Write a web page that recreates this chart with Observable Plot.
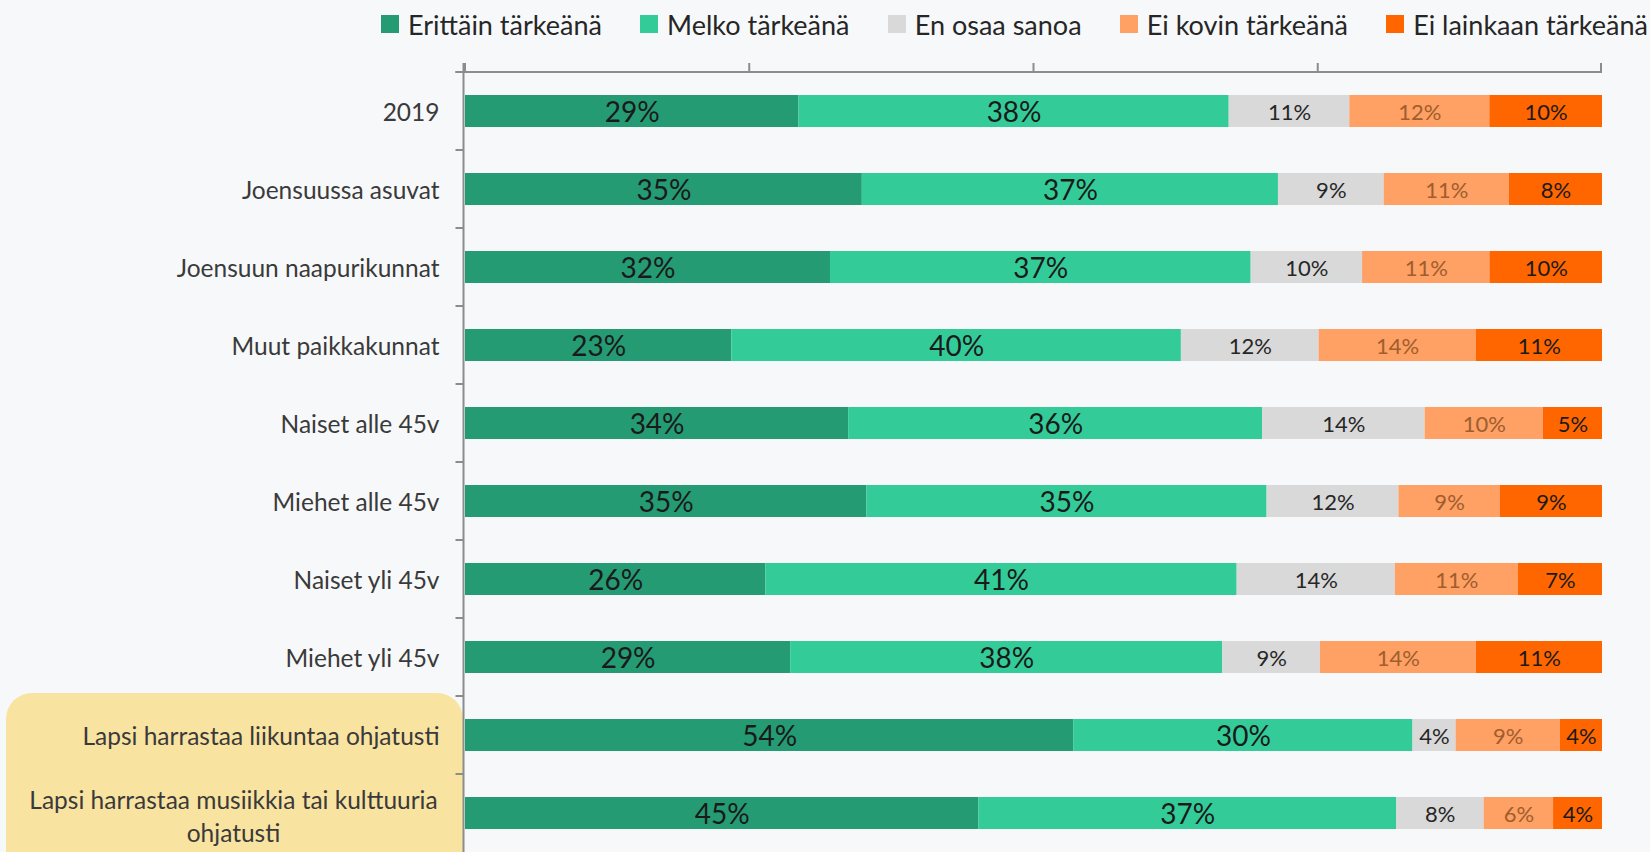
<!DOCTYPE html>
<html>
<head>
<meta charset="utf-8">
<script src="https://cdn.jsdelivr.net/npm/d3@7"></script>
<script src="https://cdn.jsdelivr.net/npm/@observablehq/plot@0.6"></script>
<style>
  html, body { margin: 0; padding: 0; background: #f7f8fa; overflow: hidden; }
  #wrap { position: relative; width: 1650px; height: 852px; overflow: hidden; font-family: Lato, "Open Sans", sans-serif; }
  #legend { position: absolute; left: 381px; right: 2px; top: 0; height: 48px; display: flex; justify-content: space-between; align-items: center; font-size: 27px; color: #262626; white-space: nowrap; }
  #legend .item { display: flex; align-items: center; }
  #legend .sw { width: 18px; height: 18px; margin-right: 9px; display: inline-block; }
  #chart { position: absolute; left: 0; top: 46px; }
</style>
</head>
<body>
<div id="wrap">
  <div id="legend"></div>
  <div id="chart"></div>
</div>
<script>
// ---- data ----
const categories = [
  "2019",
  "Joensuussa asuvat",
  "Joensuun naapurikunnat",
  "Muut paikkakunnat",
  "Naiset alle 45v",
  "Miehet alle 45v",
  "Naiset yli 45v",
  "Miehet yli 45v",
  "Lapsi harrastaa liikuntaa ohjatusti",
  "Lapsi harrastaa musiikkia tai kulttuuria ohjatusti"
];
const seriesNames = ["Erittäin tärkeänä", "Melko tärkeänä", "En osaa sanoa", "Ei kovin tärkeänä", "Ei lainkaan tärkeänä"];
const erittain   = [29.3, 34.9, 32.1, 23.4, 33.7, 35.3, 26.4, 28.6, 53.6, 45.1];
const melko      = [37.8, 36.6, 37.0, 39.5, 36.4, 35.2, 41.4, 38.0, 29.9, 36.7];
const enOsaa     = [10.6,  9.3,  9.8, 12.1, 14.3, 11.6, 13.9,  8.6,  3.8,  7.7];
const eiKovin    = [12.3, 11.0, 11.2, 13.8, 10.4,  8.9, 10.8, 13.7,  9.2,  6.1];
const eiLainkaan = [ 9.9,  8.2,  9.9, 11.1,  5.2,  9.0,  7.4, 11.1,  3.7,  4.3];
const xTicks = [0, 0.25, 0.5, 0.75, 1];
const highlighted = ["Lapsi harrastaa liikuntaa ohjatusti", "Lapsi harrastaa musiikkia tai kulttuuria ohjatusti"];

// ---- styles ----
const colors = ["#259b74", "#33cc99", "#d9d9d9", "#ffa064", "#ff6600"];
const labelFill = ["#1a1a1a", "#1a1a1a", "#262626", "#9e5e2e", "#1a1a1a"];
const labelSize = [28, 28, 22, 22, 22];
const axisColor = "#8c8c8c";

const seriesValues = [erittain, melko, enOsaa, eiKovin, eiLainkaan];
const data = [];
categories.forEach((c, i) => {
  seriesNames.forEach((s, j) => data.push({cat: c, series: s, value: seriesValues[j][i]}));
});

// legend
const legend = document.getElementById("legend");
seriesNames.forEach((s, j) => {
  const it = document.createElement("div");
  it.className = "item";
  const sw = document.createElement("span");
  sw.className = "sw";
  sw.style.background = colors[j];
  it.appendChild(sw);
  it.appendChild(document.createTextNode(s));
  legend.appendChild(it);
});

const stackBase = {x: "value", y: "cat", z: "series", offset: "normalize"};

function highlightBox(index, scales, values, dims) {
  const {x, y} = scales;
  const step = y(categories[1]) - y(categories[0]);
  const bw = typeof y.bandwidth === "function" ? y.bandwidth() : 0;
  const gap = (step - bw) / 2;
  const top = y(highlighted[0]) - gap - 3;
  const g = d3.create("svg:g");
  g.append("rect")
    .attr("x", 6).attr("y", top)
    .attr("width", x(0) - 2 - 6).attr("height", dims.height - top + 40)
    .attr("rx", 26).attr("ry", 26)
    .attr("fill", "#f9e3a1");
  return g.node();
}

function axesMark(index, scales, values, dims) {
  const {x, y} = scales;
  const step = y(categories[1]) - y(categories[0]);
  const bw = typeof y.bandwidth === "function" ? y.bandwidth() : 0;
  const gap = (step - bw) / 2;
  const x0 = x(0) - 1.5;
  const top = dims.marginTop;
  const bottom = dims.height - dims.marginBottom;
  const g = d3.create("svg:g").attr("stroke", axisColor).attr("stroke-width", 2).attr("fill", "none");
  g.append("line").attr("x1", x0 - 8).attr("x2", x(1)).attr("y1", top).attr("y2", top);
  g.append("line").attr("x1", x0).attr("x2", x0).attr("y1", top - 9).attr("y2", bottom + 2);
  xTicks.forEach(t => {
    const xx = Math.min(x(t), x(1) - 1) ;
    g.append("line").attr("x1", xx).attr("x2", xx).attr("y1", top - 9).attr("y2", top);
  });
  categories.forEach(c => {
    const yb = y(c) - gap;
    g.append("line").attr("x1", x0 - 8).attr("x2", x0).attr("y1", yb).attr("y2", yb);
  });
  return g.node();
}

const labelMarks = seriesNames.map((s, j) =>
  Plot.text(data, Plot.filter(d => d.series === s, Plot.stackX({
    ...stackBase,
    text: d => Math.round(d.value) + "%",
    fill: labelFill[j],
    fontSize: labelSize[j],
    fontFamily: "Lato",
    dy: 1.5
  })))
);

const plot = Plot.plot({
  width: 1650,
  height: 806,
  marginTop: 26,
  marginBottom: 0,
  marginLeft: 465,
  marginRight: 48,
  style: {background: "#f7f8fa", fontFamily: "Lato, sans-serif"},
  x: {domain: [0, 1], axis: null},
  y: {domain: categories, paddingInner: 0.59, paddingOuter: 0.295, axis: null},
  color: {domain: seriesNames, range: colors},
  marks: [
    highlightBox,
    Plot.barX(data, Plot.stackX({...stackBase, fill: "series"})),
    ...labelMarks,
    Plot.text(categories.filter(c => c !== categories[categories.length - 1]), {
      y: d => d, text: d => d, frameAnchor: "left", textAnchor: "end", dx: -26, dy: 1.5,
      fontSize: 24.5, fill: "#3a3a3a"
    }),
    Plot.text([categories[categories.length - 1]], {
      y: d => d, text: () => "Lapsi harrastaa musiikkia tai kulttuuria\nohjatusti",
      frameAnchor: "left", textAnchor: "middle", dx: -232, dy: 1.5, lineHeight: 1.35,
      fontSize: 24.5, fill: "#3a3a3a"
    }),
    axesMark
  ]
});
document.getElementById("chart").appendChild(plot);
</script>
</body>
</html>
